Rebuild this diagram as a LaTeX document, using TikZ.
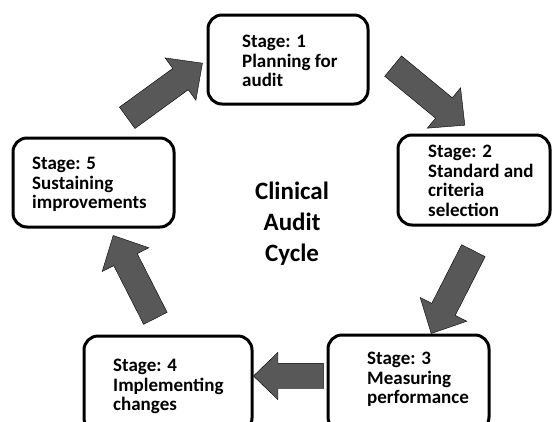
\documentclass[tikz,border=0pt]{standalone}
\usepackage{fontspec}
\setmainfont{Carlito}
\usepackage{xcolor}
\usetikzlibrary{shapes.arrows}

\definecolor{arrowgray}{RGB}{88,88,88}

\tikzset{
  stage/.style={draw, line width=3pt, rounded corners=14pt, minimum width=161pt, minimum height=89pt},
  stagetext/.style={anchor=north west, inner sep=0pt, align=left, font=\fontsize{19}{19.5}\selectfont\bfseries},
  blockarrow/.style={single arrow, draw=black, thin, fill=arrowgray, inner xsep=0pt, inner ysep=13pt,
    minimum height=93pt, single arrow head extend=13pt, single arrow tip angle=88}
}

\begin{document}
\begin{tikzpicture}[x=1pt, y=-1pt]
\useasboundingbox (0,0) rectangle (552,421);
\fill[white] (0,0) rectangle (552,421);
\clip (0,0) rectangle (552,421);

% boxes
\node[stage, minimum width=160pt] (s1) at (288,59.5) {};
\node[stage, minimum width=152pt, minimum height=90pt] (s2) at (474,180) {};
\node[stage, minimum height=96pt] (s3) at (408.5,383) {};
\node[stage, minimum width=168pt, minimum height=96pt] (s4) at (168,384) {};
\node[stage] (s5) at (93.5,182.5) {};

\node[stagetext] (t1) at (242,35) {Stage: 1\\Planning for\\audit};
\node[stagetext] (t2) at (428,145) {Stage: 2\\Standard and\\criteria\\selection};
\node[stagetext] (t3) at (367,352) {Stage: 3\\Measuring\\performance};
\node[stagetext] (t4) at (113,359) {Stage: 4\\Implementing\\changes};
\node[stagetext] (t5) at (32,157) {Stage: 5\\Sustaining\\improvements};

\node[font=\fontsize{25}{31}\selectfont\bfseries, align=center] (title) at (292,224) {Clinical\\Audit\\Cycle};

% arrows between the stages
\node[blockarrow, rotate=-39.5] (a12) at (423.7,91.3) {};
\node[blockarrow, rotate=-117] (a23) at (455.4,286) {};
\node[blockarrow, rotate=180, minimum height=70pt, inner ysep=12.5pt, single arrow head extend=11pt] (a34) at (295,376) {};
\node[blockarrow, rotate=117] (a45) at (137.4,283) {};
\node[blockarrow, rotate=36] (a51) at (159.3,94.5) {};
\end{tikzpicture}
\end{document}
